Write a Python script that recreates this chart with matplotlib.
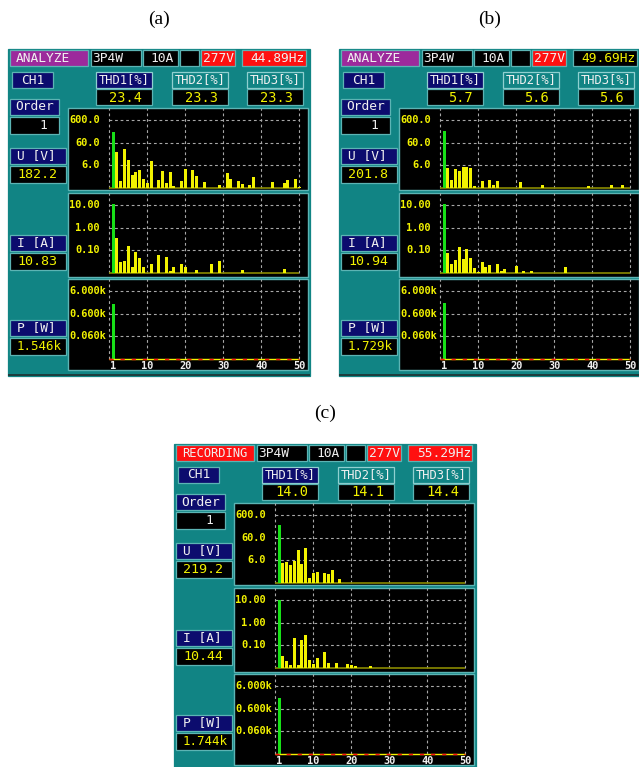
import numpy as np
import matplotlib.pyplot as plt
from matplotlib.patches import Rectangle

W, H = 639, 767

# ---- data (harmonic order -> value) ----
a_u_orders = [1, 2, 3, 4, 5, 6, 7, 8, 9, 10, 11, 13, 14, 15, 16, 17, 19, 20, 22, 23,
              25, 29, 31, 32, 34, 35, 37, 38, 43, 46, 47, 49, 50]
a_u_values = [182.2, 22.5, 1.27, 31.5, 10.0, 2.2, 3.15, 3.9, 1.55, 1.0, 9.0, 1.4, 3.5, 1.0,
              3.15, 0.7, 1.27, 4.0, 3.6, 2.0, 1.1, 0.8, 2.8, 1.55, 1.27, 0.9, 0.8, 1.8,
              1.1, 1.0, 1.4, 1.55, 0.65]
a_i_orders = [1, 2, 3, 4, 5, 6, 7, 8, 9, 11, 13, 15, 16, 17, 19, 20, 23, 27, 29, 35, 46]
a_i_values = [10.83, 0.35, 0.03, 0.034, 0.155, 0.019, 0.085, 0.047, 0.019, 0.024, 0.06,
              0.049, 0.012, 0.019, 0.024, 0.019, 0.0135, 0.024, 0.034, 0.0135, 0.015]
a_p_orders = [1]
a_p_values = [1546]

b_u_orders = [1, 2, 3, 4, 5, 6, 7, 8, 9, 11, 13, 14, 15, 21, 27, 39, 45, 48]
b_u_values = [201.8, 4.4, 1.4, 4.0, 3.5, 5.1, 5.1, 4.4, 0.7, 1.27, 1.4, 0.8, 1.27, 1.1,
              0.8, 0.7, 0.8, 0.8]
b_i_orders = [1, 2, 3, 4, 5, 6, 7, 8, 9, 10, 11, 12, 13, 15, 16, 17, 20, 22, 24, 33]
b_i_values = [10.94, 0.074, 0.026, 0.036, 0.145, 0.041, 0.118, 0.047, 0.0166, 0.011, 0.03,
              0.018, 0.023, 0.026, 0.012, 0.0145, 0.021, 0.012, 0.012, 0.019]
b_p_orders = [1]
b_p_values = [1729]

c_u_orders = [1, 2, 3, 4, 5, 6, 7, 8, 9, 10, 11, 13, 14, 15, 17]
c_u_values = [219.2, 4.7, 5.1, 3.6, 5.8, 18.0, 4.1, 22.0, 1.03, 1.6, 1.8, 1.6, 1.45, 2.2, 0.9]
c_i_orders = [1, 2, 3, 4, 5, 6, 7, 8, 9, 10, 11, 13, 14, 16, 19, 20, 21, 25]
c_i_values = [10.44, 0.033, 0.02, 0.013, 0.21, 0.013, 0.166, 0.295, 0.023, 0.0155, 0.029,
              0.051, 0.0166, 0.0166, 0.0145, 0.013, 0.012, 0.012]
c_p_orders = [1]
c_p_values = [1744]

u_ticks = [600.0, 60.0, 6.0]
u_tick_labels = ['600.0', '60.0', '6.0']
i_ticks = [10.0, 1.0, 0.1]
i_tick_labels = ['10.00', '1.00', '0.10']
p_ticks = [6000.0, 600.0, 60.0]
p_tick_labels = ['6.000k', '0.600k', '0.060k']
x_tick_orders = [1, 10, 20, 30, 40, 50]

TEAL = '#118484'
LIGHT = '#5cb4b4'
NAVY = '#0c0c6e'
YEL = '#f2f200'
GRN = '#18e018'
WHITE = '#f0f0f0'
RED = '#ff1010'
PURPLE = '#9c2a9c'
MONO = 'DejaVu Sans Mono'

fig = plt.figure(figsize=(W / 100, H / 100), dpi=100)
bg = fig.add_axes([0, 0, 1, 1])
bg.set_xlim(0, W)
bg.set_ylim(H, 0)
bg.axis('off')


def box(x0, y0, x1, y1, fc, ec=None, lw=0.9):
    bg.add_patch(Rectangle((x0, y0), x1 - x0, y1 - y0, facecolor=fc,
                           edgecolor=ec if ec else fc, linewidth=lw, zorder=1))


def txt(x, y, s, color, size=9.3, ha='left'):
    bg.text(x, y, s, color=color, fontsize=size, ha=ha, va='center',
            family=MONO, zorder=5)


def chart(ox, oy, top, bottom, ticks, labels, orders, values, label_x, power=False):
    x0, x1 = 68 + ox, 308 + ox
    y0, y1 = top + oy, bottom + oy
    box(x0, y0, x1, y1, 'black', ec=LIGHT, lw=1.0)
    ax = fig.add_axes([x0 / W, 1 - y1 / H, (x1 - x0) / W, (y1 - y0) / H])
    ax.patch.set_alpha(0)
    ax.axis('off')
    ppd, pph = 22.7, 3.8
    base = ticks[-1] / 10
    ax.set_xlim(-(109.3 - 68) / pph, 50 + (308 - 299.3) / pph)
    ax.set_yscale('log')
    ax.set_ylim(base * 10 ** (-((bottom - top) - 80) / ppd), ticks[0] * 10 ** (12 / ppd))
    ytop = ax.get_ylim()[1]
    ax.vlines(np.arange(0, 51, 10), base, ytop, colors='#a8a8a8', lw=0.8,
              linestyles=(0, (2.5, 2.5)))
    ax.hlines(ticks, 0, 50, colors='#a8a8a8', lw=0.8, linestyles=(0, (2.5, 2.5)))
    for t, lab in zip(ticks, labels):
        ax.text(label_x, t, lab, ha='right', va='center', color=YEL, fontsize=7.4,
                family=MONO, fontweight='bold')
    o = np.array(orders)
    v = np.array(values, dtype=float)
    ax.bar(o[o > 1], v[o > 1] - base, bottom=base, width=0.8, color=YEL, zorder=3)
    ax.bar(o[o == 1], v[o == 1] - base, bottom=base, width=0.8, color=GRN, zorder=3)
    if power:
        ax.hlines(base, 0, 50, colors=YEL, lw=1.0, zorder=4)
        ax.hlines(base, 0, 50, colors=RED, lw=1.0, linestyles=(0, (3, 5)), zorder=4)
        for h in x_tick_orders:
            ax.text(h, base * 10 ** (-6.5 / ppd), str(h), ha='center', va='center',
                    color=WHITE, fontsize=7.4, family=MONO, fontweight='bold')
    else:
        ax.hlines(base, 0, 50, colors='#8a8a00', lw=1.2, zorder=2)


def screen(ox, oy, mode, mode_fc, hz, hz_fc, hz_color, thd, u, i, p,
           u_data, i_data, p_data):
    box(8 + ox, 49 + oy, 310 + ox, 376 + oy, TEAL)
    bg.add_patch(Rectangle((8 + ox, 374 + oy), 302, 2, facecolor='#1d3e3e', lw=0, zorder=2))
    # header line
    box(10 + ox, 50 + oy, 88 + ox, 66 + oy, mode_fc, ec=LIGHT)
    if len(mode) > 7:
        txt(49 + ox, 58.5 + oy, mode, WHITE, size=8.7, ha='center')
    else:
        txt(16 + ox, 58.5 + oy, mode, WHITE)
    box(91 + ox, 50 + oy, 141 + ox, 66 + oy, 'black', ec=LIGHT)
    txt(92 + ox, 58.5 + oy, '3P4W', WHITE)
    box(143 + ox, 50 + oy, 178 + ox, 66 + oy, 'black', ec=LIGHT)
    txt(174 + ox, 58.5 + oy, '10A', WHITE, ha='right')
    box(180 + ox, 50 + oy, 199 + ox, 66 + oy, 'black', ec=LIGHT)
    box(201 + ox, 50 + oy, 235 + ox, 66 + oy, RED, ec=LIGHT)
    txt(234 + ox, 58.5 + oy, '277V', WHITE, ha='right')
    box(242 + ox, 50 + oy, 306 + ox, 66 + oy, hz_fc, ec=LIGHT)
    txt(305 + ox, 58.5 + oy, hz, hz_color, ha='right')
    # channel / thd
    box(12 + ox, 72 + oy, 53 + ox, 88 + oy, NAVY, ec=LIGHT)
    txt(32.5 + ox, 80 + oy, 'CH1', WHITE, ha='center')
    for k, (xa, xb) in enumerate([(96, 152), (172, 228), (247, 303)]):
        box(xa + ox, 72 + oy, xb + ox, 88 + oy, NAVY if k == 0 else TEAL, ec='#8fd0d0')
        txt((xa + xb) / 2 + ox, 80 + oy, 'THD%d[%%]' % (k + 1), WHITE, size=8.7,
            ha='center')
        box(xa + ox, 89 + oy, xb + ox, 105 + oy, 'black', ec=LIGHT)
        txt(xb - 10 + ox, 97.5 + oy, thd[k], YEL, size=9.8, ha='right')
    box(10 + ox, 99 + oy, 59 + ox, 115 + oy, NAVY, ec=LIGHT)
    txt(35 + ox, 107 + oy, 'Order', WHITE, ha='center')
    box(10 + ox, 117 + oy, 59 + ox, 134 + oy, 'black', ec=LIGHT)
    txt(47 + ox, 125.5 + oy, '1', WHITE, ha='right')
    # readouts
    for (ya, name, val) in [(148, 'U [V]', u), (235, 'I [A]', i), (320, 'P [W]', p)]:
        box(10 + ox, ya + oy, 66 + ox, ya + 16 + oy, NAVY, ec=LIGHT)
        txt(17 + ox, ya + 8 + oy, name, WHITE)
        box(10 + ox, ya + 18 + oy, 66 + ox, ya + 35 + oy, 'black', ec=LIGHT)
        txt(17 + ox, ya + 26.5 + oy, val, YEL, size=9.0 if len(val) > 5 else 9.6)
    chart(ox, oy, 108, 190, u_ticks, u_tick_labels, *u_data, -2.45)
    chart(ox, oy, 193, 277, i_ticks, i_tick_labels, *i_data, -2.45)
    chart(ox, oy, 279, 370, p_ticks, p_tick_labels, *p_data, -0.85, power=True)


screen(0, 0, 'ANALYZE', PURPLE, '44.89Hz', RED, WHITE, ['23.4', '23.3', '23.3'],
       '182.2', '10.83', '1.546k',
       (a_u_orders, a_u_values), (a_i_orders, a_i_values), (a_p_orders, a_p_values))
screen(331, 0, 'ANALYZE', PURPLE, '49.69Hz', 'black', YEL, ['5.7', '5.6', '5.6'],
       '201.8', '10.94', '1.729k',
       (b_u_orders, b_u_values), (b_i_orders, b_i_values), (b_p_orders, b_p_values))
screen(166, 395, 'RECORDING', RED, '55.29Hz', RED, WHITE, ['14.0', '14.1', '14.4'],
       '219.2', '10.44', '1.744k',
       (c_u_orders, c_u_values), (c_i_orders, c_i_values), (c_p_orders, c_p_values))

for x, y, s in [(159, 19, '(a)'), (490, 19, '(b)'), (325, 413, '(c)')]:
    bg.text(x, y, s, ha='center', va='center', fontsize=14, family='Liberation Serif',
            color='black')

fig.savefig('out.png', dpi=100)
